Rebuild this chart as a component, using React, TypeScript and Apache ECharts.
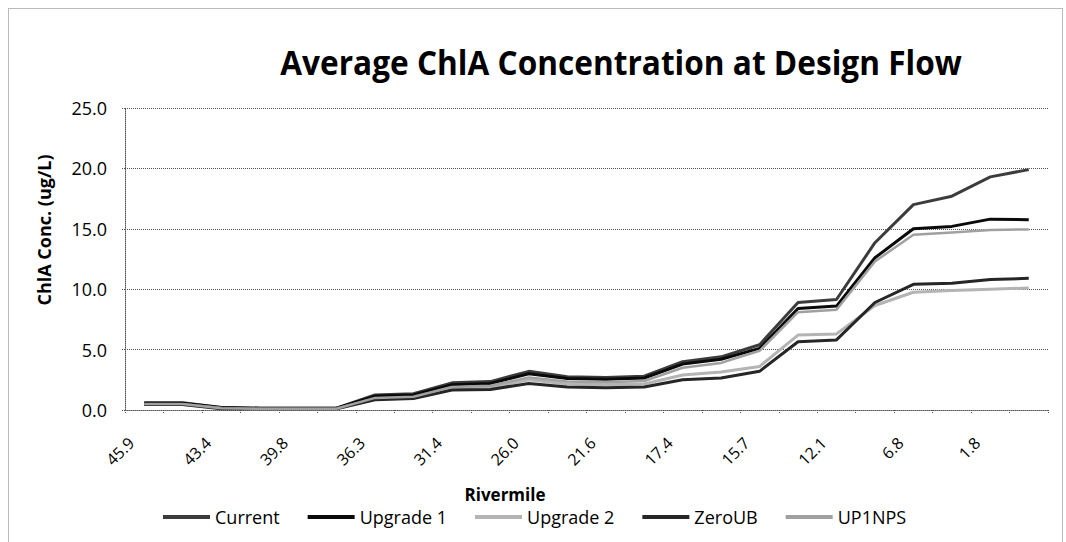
import React, { useEffect, useRef } from "react";
import * as echarts from "echarts";

const categories = ["45.9","44.6","43.4","41.6","39.8","38.0","36.3","33.9","31.4","28.7","26.0","23.8","21.6","19.5","17.4","16.6","15.7","13.9","12.1","9.5","6.8","4.3","1.8","0.2"];
const yTicks = [0, 5, 10, 15, 20, 25];
const current = [0.6,0.6,0.2,0.15,0.15,0.15,1.25,1.35,2.25,2.35,3.2,2.75,2.7,2.8,4.0,4.4,5.4,8.9,9.15,13.85,17.0,17.7,19.3,19.9];
const upgrade1 = [0.55,0.55,0.2,0.15,0.15,0.15,1.15,1.25,2.1,2.2,3.0,2.6,2.55,2.65,3.8,4.2,5.1,8.4,8.6,12.6,15.0,15.2,15.8,15.75];
const upgrade2 = [0.45,0.45,0.15,0.1,0.1,0.1,0.9,1.0,1.8,1.85,2.5,2.15,2.1,2.15,2.9,3.15,3.6,6.2,6.3,8.65,9.75,9.9,10.0,10.1];
const zeroUB = [0.45,0.45,0.1,0.1,0.1,0.1,0.85,0.95,1.65,1.7,2.2,1.9,1.85,1.9,2.5,2.65,3.2,5.65,5.8,8.9,10.4,10.5,10.8,10.9];
const up1nps = [0.5,0.5,0.15,0.1,0.1,0.1,1.0,1.1,1.9,2.0,2.7,2.35,2.3,2.4,3.5,3.9,4.9,8.1,8.3,12.3,14.5,14.7,14.9,14.95];

const seriesDefs = [
  { name: "Current", data: current, color: "#3c3c3c", width: 3 },
  { name: "Upgrade 1", data: upgrade1, color: "#0a0a0a", width: 3 },
  { name: "Upgrade 2", data: upgrade2, color: "#b4b4b4", width: 3 },
  { name: "ZeroUB", data: zeroUB, color: "#262626", width: 3 },
  { name: "UP1NPS", data: up1nps, color: "#a0a0a0", width: 2.5 },
];

const FONT = "'Open Sans', 'Noto Sans', sans-serif";

export default function App() {
  const ref = useRef<HTMLDivElement>(null);
  useEffect(() => {
    document.body.style.margin = "0";
    const chart = echarts.init(ref.current!, null, { renderer: "svg" });
    chart.setOption({
      animation: false,
      backgroundColor: "#fff",
      textStyle: { fontFamily: FONT, color: "#000" },
      graphic: [
        {
          type: "rect",
          shape: { x: 8.5, y: 8.5, width: 1054, height: 560 },
          style: { fill: "none", stroke: "#777", lineWidth: 1, lineDash: [1, 1] },
          silent: true,
        },
        {
          type: "text",
          x: 621,
          y: 62,
          scaleX: 0.93,
          style: { text: "Average ChlA Concentration at Design Flow", font: `bold 34px ${FONT}`, fill: "#000", align: "center", verticalAlign: "middle" },
        },
        {
          type: "text",
          x: 44,
          y: 230,
          rotation: Math.PI / 2,
          style: { text: "ChlA Conc. (ug/L)", font: `bold 18px ${FONT}`, fill: "#000", align: "center", verticalAlign: "middle" },
        },
        {
          type: "text",
          x: 505,
          y: 494,
          style: { text: "Rivermile", font: `bold 17px ${FONT}`, fill: "#000", align: "center", verticalAlign: "middle" },
        },
      ],
      grid: { left: 125, right: 18, top: 108, bottom: 132, containLabel: false },
      legend: {
        left: 163,
        top: 508,
        padding: 0,
        itemWidth: 47,
        itemHeight: 4,
        itemGap: 28,
        icon: "rect",
        textStyle: { fontFamily: FONT, fontSize: 18, color: "#000" },
        data: seriesDefs.map((s) => s.name),
      },
      xAxis: {
        type: "category",
        data: categories,
        boundaryGap: true,
        axisLine: { show: true, lineStyle: { color: "#555", type: "dotted", width: 1 } },
        axisTick: { show: true, interval: 0, length: 4, lineStyle: { color: "#555", type: "dotted" } },
        axisLabel: { show: false },
        splitLine: { show: false },
      },
      yAxis: {
        type: "value",
        min: 0,
        max: 25,
        interval: 5,
        axisLine: { show: true, lineStyle: { color: "#555", type: "dotted", width: 1 } },
        axisTick: { show: true, length: 4, lineStyle: { color: "#555", type: "dotted" } },
        axisLabel: { fontSize: 18, color: "#000", margin: 18, formatter: (v: number) => (yTicks.includes(v) ? v.toFixed(1) : "") },
        splitLine: { show: true, lineStyle: { color: "#555", type: "dotted", width: 1 } },
      },
      series: [
        ...seriesDefs.map((s) => ({
          name: s.name,
          type: "line",
          data: s.data,
          symbol: "none",
          smooth: false,
          color: s.color,
          lineStyle: { color: s.color, width: s.width },
          itemStyle: { color: s.color },
        })),
        {
          name: "xlabels",
          type: "custom",
          silent: true,
          clip: false,
          data: categories.map((c, i) => [i, 0]),
          encode: { x: 0, y: 1 },
          renderItem: (params: any, api: any) => {
            const i = api.value(0);
            if (i % 2 !== 0) return null;
            const p = api.coord([i, 0]);
            return {
              type: "text",
              x: p[0] - 13,
              y: p[1] + 30,
              rotation: Math.PI / 4,
              style: { text: categories[i], font: `16px ${FONT}`, fill: "#000", align: "right", verticalAlign: "middle" },
            };
          },
        },
      ],
    });
    return () => chart.dispose();
  }, []);
  return <div ref={ref} style={{ width: 1066, height: 542 }} />;
}
